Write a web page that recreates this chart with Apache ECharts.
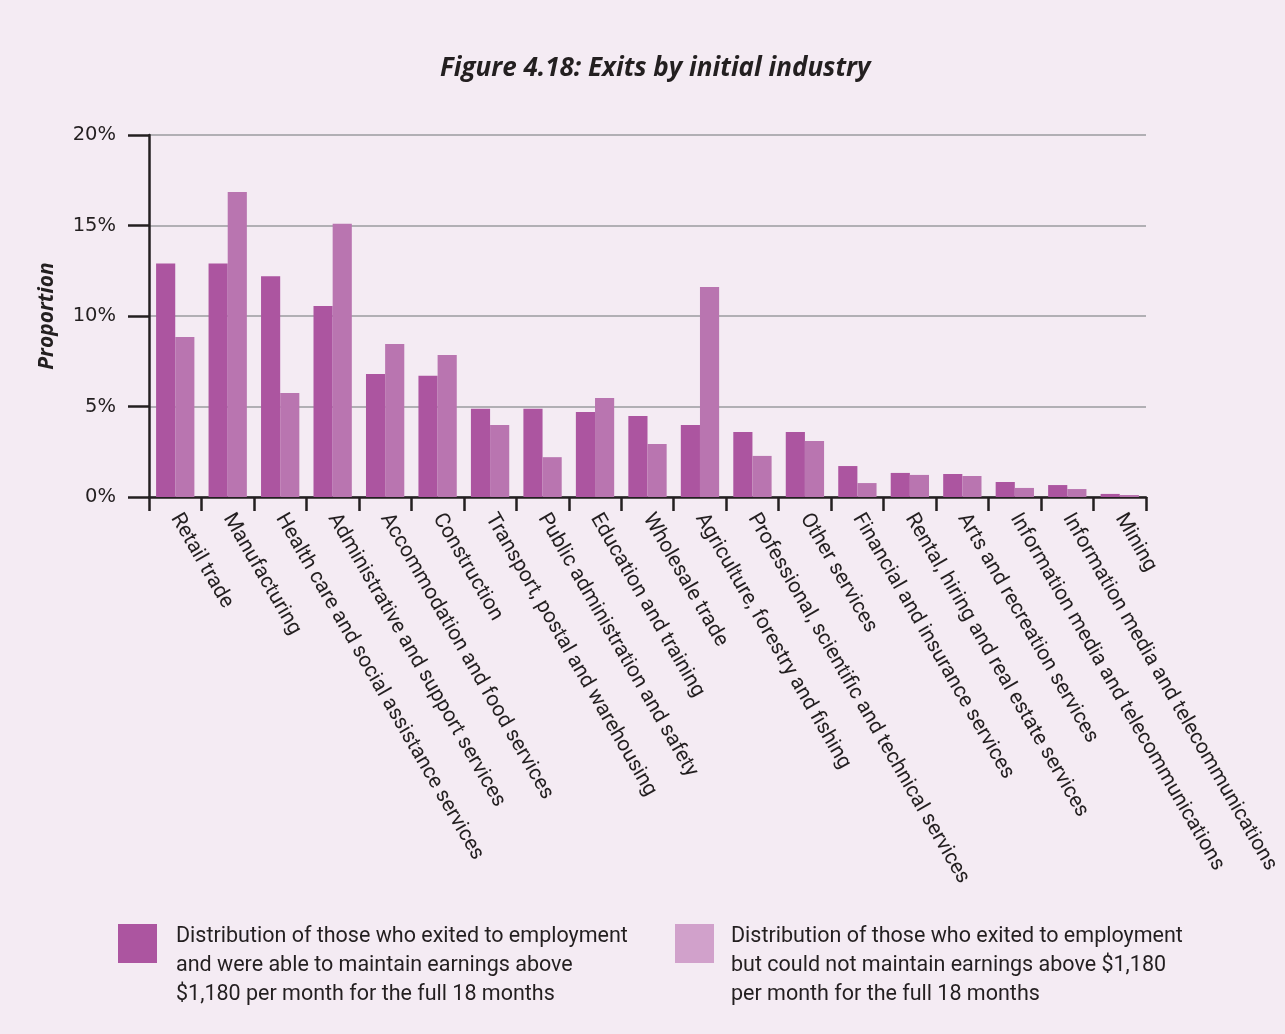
<!DOCTYPE html>
<html>
<head>
<meta charset="utf-8">
<script src="https://cdn.jsdelivr.net/npm/echarts@6/dist/echarts.min.js"></script>
<style>
html,body{margin:0;padding:0;background:#f4ebf3;}
#chart{width:1285px;height:1034px;}
</style>
</head>
<body>
<div id="chart"></div>
<script>
const categories = [
  "Retail trade",
  "Manufacturing",
  "Health care and social assistance services",
  "Administrative and support services",
  "Accommodation and food services",
  "Construction",
  "Transport, postal and warehousing",
  "Public administration and safety",
  "Education and training",
  "Wholesale trade",
  "Agriculture, forestry and fishing",
  "Professional, scientific and technical services",
  "Other services",
  "Financial and insurance services",
  "Rental, hiring and real estate services",
  "Arts and recreation services",
  "Information media and telecommunications",
  "Information media and telecommunications",
  "Mining"
];
const maintained = [12.9, 12.9, 12.2, 10.55, 6.8, 6.7, 4.88, 4.88, 4.7, 4.48, 3.98, 3.59, 3.59, 1.71, 1.33, 1.27, 0.83, 0.66, 0.17];
const notMaintained = [8.84, 16.85, 5.75, 15.1, 8.45, 7.85, 3.98, 2.2, 5.47, 2.93, 11.6, 2.27, 3.09, 0.77, 1.22, 1.16, 0.5, 0.44, 0.11];
const yTicks = [0, 5, 10, 15, 20];
const seriesNames = [
  "Distribution of those who exited to employment\nand were able to maintain earnings above\n$1,180 per month for the full 18 months",
  "Distribution of those who exited to employment\nbut could not maintain earnings above $1,180\nper month for the full 18 months"
];

// swatch 39x39 at the top-left of the icon box (the far corner speck only sets the box size)
const legendText = {color:'#231f20', fontFamily:'Roboto', fontSize:21.5, lineHeight:29};

const chart = echarts.init(document.getElementById('chart'));
chart.setOption({
  backgroundColor:'#f4ebf3',
  animation:false,
  title:{
    text:'Figure 4.18: Exits by initial industry',
    left:435, top:51,
    textStyle:{fontFamily:'Open Sans', fontStyle:'italic', fontWeight:'bold', fontSize:26, color:'#231f20'}
  },
  legend:[{
    data:[{name:seriesNames[0], itemStyle:{color:'#ac55a0'}}],
    left:118, top:922, padding:0, itemWidth:53, itemHeight:83, itemGap:0,
    icon:'path://M0,0L39,0L39,39L0,39Z M53,83L53.01,83L53.01,83.01Z', selectedMode:false, textStyle:legendText
  },{
    data:[{name:seriesNames[1], itemStyle:{color:'#d1a1cb'}}],
    left:675, top:922, padding:0, itemWidth:51, itemHeight:83, itemGap:0,
    icon:'path://M0,0L39,0L39,39L0,39Z M51,83L51.01,83L51.01,83.01Z', selectedMode:false, textStyle:legendText
  }],
  grid:{left:149, right:139, top:135, bottom:537},
  xAxis:{
    type:'category',
    data:categories,
    axisLine:{lineStyle:{color:'#231f20', width:2.5}},
    axisTick:{show:true, length:14, lineStyle:{color:'#231f20', width:2.5}},
    axisLabel:{rotate:-60, interval:0, fontFamily:'Roboto', fontSize:21, color:'#231f20', margin:18}
  },
  yAxis:{
    type:'value', min:0, max:20, interval:5,
    name:'Proportion', nameLocation:'middle', nameGap:91,
    nameTextStyle:{fontFamily:'Open Sans', fontStyle:'italic', fontWeight:'bold', fontSize:21, color:'#231f20'},
    axisLine:{show:true, lineStyle:{color:'#231f20', width:2.5}},
    axisTick:{show:true, length:21, lineStyle:{color:'#231f20', width:2.5}},
    axisLabel:{formatter:v=>v+'%', fontFamily:'DejaVu Sans', fontSize:19.5, color:'#231f20', margin:33},
    splitLine:{lineStyle:{color:'#9b9b9f', width:1.5}}
  },
  series:[{
    name:seriesNames[0], type:'bar', data:maintained,
    itemStyle:{color:'#ac55a0'}, barGap:'0%', barCategoryGap:'27%'
  },{
    name:seriesNames[1], type:'bar', data:notMaintained,
    itemStyle:{color:'#b975b0'}, barGap:'0%', barCategoryGap:'27%'
  }]
});
</script>
</body>
</html>
